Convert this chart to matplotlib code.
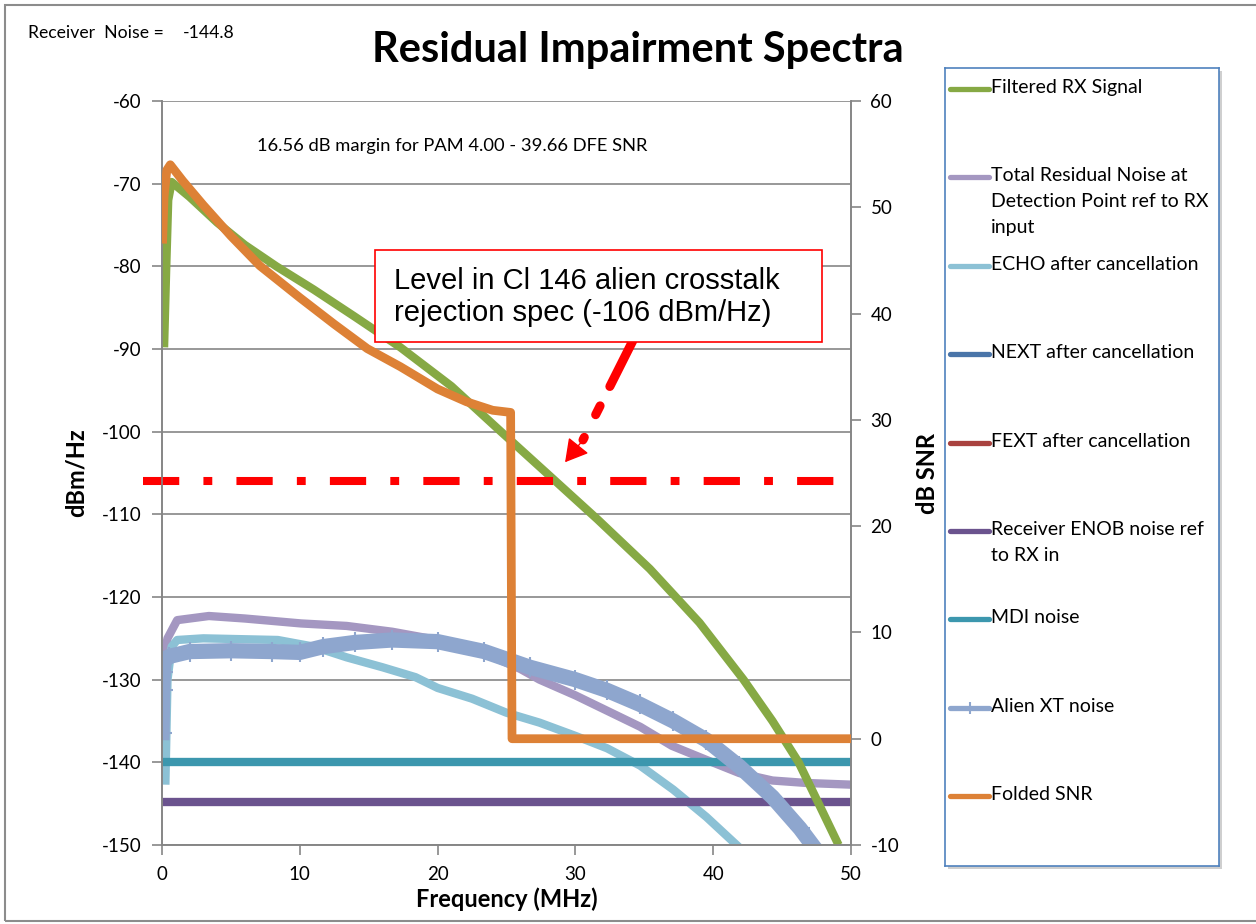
#!/usr/bin/env python3
"""Residual impairment spectra: noise terms vs filtered RX signal, plus folded SNR."""
import matplotlib
matplotlib.use("Agg")
import matplotlib.pyplot as plt
from matplotlib.patches import Rectangle
from matplotlib.lines import Line2D

plt.rcParams["axes.unicode_minus"] = False

W, H = 1256, 924

# Filtered RX Signal (dBm/Hz)
rx_f = [0.15, 0.3, 0.45, 0.7, 2.0, 4.0, 6.0, 8.3, 11.0, 14.0, 17.3, 21.0, 24.6,
        28.5, 31.6, 35.4, 39.0, 42.2, 44.3, 46.2, 47.8, 49.1]
rx_v = [-89.8, -80.5, -72.0, -69.8, -71.6, -74.7, -77.4, -80.0, -82.8, -86.1,
        -89.8, -94.5, -100.0, -105.9, -110.6, -116.6, -123.1, -130.0,
        -135.0, -140.0, -145.5, -150.0]

# Total Residual Noise at Detection Point ref to RX input
tot_f = [0.05, 0.4, 1.1, 3.4, 6.0, 10.1, 13.4, 16.7, 20.0, 23.4, 26.0, 27.4,
         30.0, 34.7, 37.0, 39.5, 41.9, 44.3, 46.8, 50.0]
tot_v = [-128.0, -125.0, -122.8, -122.3, -122.6, -123.2, -123.5, -124.2, -125.2,
         -126.8, -128.7, -130.0, -131.9, -135.7, -138.0, -139.7, -141.3, -142.2,
         -142.5, -142.7]

# ECHO after cancellation
echo_f = [0.25, 0.4, 0.7, 1.1, 3.0, 8.4, 11.0, 13.4, 16.0, 18.4, 20.0, 22.5,
          25.0, 27.4, 30.0, 32.3, 34.7, 37.1, 39.5, 41.7]
echo_v = [-142.2, -130.0, -126.0, -125.2, -125.0, -125.2, -126.0, -127.3, -128.5,
          -129.7, -131.0, -132.3, -134.0, -135.2, -136.8, -138.3, -140.4, -143.3,
          -146.6, -150.0]

# Receiver ENOB noise and MDI noise (flat)
enob_f = [0.0, 50.0]
enob_v = [-144.8, -144.8]
mdi_f = [0.0, 50.0]
mdi_v = [-140.0, -140.0]

# Alien XT noise
axt_f = [0.0, 0.05, 0.1, 0.15, 0.5, 2.0, 5.0, 8.0, 10.0, 11.7, 14.0, 16.7, 20.0,
         23.4, 26.7, 30.0, 32.3, 34.7, 37.1, 39.5, 41.9, 44.3, 46.3, 47.2]
axt_v = [-136.4, -131.3, -129.1, -127.7, -127.2, -126.6, -126.5, -126.6, -126.7,
         -126.0, -125.5, -125.2, -125.4, -126.6, -128.5, -130.0, -131.3, -133.0,
         -135.0, -137.3, -140.5, -144.2, -148.0, -150.0]

# Folded SNR (dB, right axis)
snr_f = [0.05, 0.15, 0.35, 0.6, 1.5, 3.0, 5.0, 7.1, 10.0, 12.5, 14.9, 17.3,
         20.0, 22.1, 24.0, 25.3, 25.4, 50.0]
snr_v = [47.0, 51.0, 53.5, 54.0, 52.5, 50.2, 47.3, 44.5, 41.5, 39.0, 36.7, 35.0,
         32.9, 31.7, 30.9, 30.7, 0.0, 0.0]

spec_level = -106.0

legend_names = ["Filtered RX Signal",
                "Total Residual Noise at\nDetection Point ref to RX\ninput",
                "ECHO after cancellation", "NEXT after cancellation",
                "FEXT after cancellation", "Receiver ENOB noise ref\nto RX in",
                "MDI noise", "Alien XT noise", "Folded SNR"]
colors = ["#86A944", "#A497C1", "#8CC1D5", "#4A75A9", "#A9423F",
          "#6B538E", "#3C97AE", "#8EA6CE", "#DD8136"]

CAL = "Lato"
GRAY = "#868686"


def fx(px):
    return px / W


def fy(py):
    return 1 - py / H


fig = plt.figure(figsize=(W / 100, H / 100), dpi=100)
ax = fig.add_axes([fx(162), fy(845), (851 - 162) / W, (845 - 101) / H])
ax2 = ax.twinx()

lw = 6.0
ax.plot(rx_f, rx_v, color=colors[0], lw=lw, zorder=3, solid_capstyle="butt")
ax.plot(tot_f, tot_v, color=colors[1], lw=lw, zorder=2)
ax.plot(echo_f, echo_v, color=colors[2], lw=lw, zorder=2)
ax.plot(enob_f, enob_v, color=colors[5], lw=lw, zorder=2, solid_capstyle="butt")
ax.plot(mdi_f, mdi_v, color=colors[6], lw=lw, zorder=2, solid_capstyle="butt")
ax.plot(axt_f, axt_v, color=colors[7], lw=11, marker="+", ms=14, mew=1.5, zorder=2.5)
ax.axhline(spec_level, xmin=-0.028, xmax=1.0, color="red", lw=5.8,
           linestyle=(0, (4.5, 3.0, 1.1, 3.0)), clip_on=False, zorder=4)

ax2.plot(snr_f, snr_v, color=colors[8], lw=lw + 0.3, zorder=3)

ax.set_xlim(0, 50)
ax.set_ylim(-150, -60)
ax2.set_ylim(-10, 60)
ax.set_xticks(range(0, 51, 10))
ax.set_yticks(range(-150, -59, 10))
ax2.set_yticks(range(-10, 61, 10))
ax.grid(axis="y", color=GRAY, lw=1.2)
ax.set_axisbelow(True)

for a in (ax, ax2):
    a.spines["top"].set_visible(False)
    for s in ("left", "right", "bottom"):
        a.spines[s].set_color(GRAY)
        a.spines[s].set_linewidth(1.2)
    a.tick_params(colors=GRAY, length=7, width=1.2, labelcolor="black")
    for lab in a.get_xticklabels() + a.get_yticklabels():
        lab.set_fontfamily(CAL)
        lab.set_fontsize(13.5)
ax.tick_params(axis="y", pad=8)
ax2.tick_params(axis="y", pad=7)
ax.tick_params(axis="x", pad=8)

ax.set_ylabel("dBm/Hz", fontfamily=CAL, fontsize=17, fontweight="bold", labelpad=10)
ax2.set_ylabel("dB SNR", fontfamily=CAL, fontsize=17, fontweight="bold", labelpad=12)
ax.set_xlabel("Frequency (MHz)", fontfamily=CAL, fontsize=17, fontweight="bold", labelpad=3)

# arrow pointing at the spec line
ax.annotate("", xy=(30.55, -101.0), xytext=(34.5, -87.9),
            arrowprops=dict(arrowstyle="-", color="red", lw=6.5, shrinkA=0, shrinkB=0,
                            linestyle=(0, (6.8, 2.4, 1.1, 2.8))), zorder=5)
ax.annotate("", xy=(29.25, -103.7), xytext=(30.6, -100.9),
            arrowprops=dict(arrowstyle="-|>,head_length=1.4,head_width=0.8",
                            color="red", lw=1, shrinkA=0, shrinkB=0), zorder=5)

# annotation box
fig.patches.append(Rectangle((fx(375), fy(342)), (822 - 375) / W, (342 - 250) / H,
                             transform=fig.transFigure, fc="white", ec="red",
                             lw=1.2, zorder=10))
fig.text(fx(394), fy(297), "Level in Cl 146 alien crosstalk\nrejection spec (-106 dBm/Hz)",
         fontfamily="Liberation Sans", fontsize=21, va="center", ha="left",
         linespacing=1.15, zorder=11)

fig.text(0.5 * (373 + 903) / W, fy(50), "Residual Impairment Spectra", fontfamily=CAL,
         fontsize=30, fontweight="bold", ha="center", va="center")
fig.text(fx(28), fy(33), "Receiver  Noise =", fontfamily=CAL, fontsize=12.7,
         ha="left", va="center")
fig.text(fx(183), fy(33), "-144.8", fontfamily=CAL, fontsize=12.7, ha="left", va="center")
fig.text(fx(257), fy(146), "16.56 dB margin for PAM 4.00 - 39.66 DFE SNR",
         fontfamily=CAL, fontsize=13.2, ha="left", va="center")

# outer border
fig.patches.append(Rectangle((fx(5), fy(921)), 1.0, (921 - 5) / H,
                             transform=fig.transFigure, fill=False, ec="#8C8C8C", lw=1.5))

# hand-placed legend box
lx0, ly0, lx1, ly1 = 945, 68, 1219, 866
fig.patches.append(Rectangle((fx(lx0 + 3), fy(ly1 + 3)), (lx1 - lx0) / W, (ly1 - ly0) / H,
                             transform=fig.transFigure, fc="#CFCFCF", ec="none", zorder=1))
lax = fig.add_axes([fx(lx0), fy(ly1), (lx1 - lx0) / W, (ly1 - ly0) / H], zorder=5)
lax.set_facecolor("white")
lax.set_xlim(0, lx1 - lx0)
lax.set_ylim(ly1 - ly0, 0)
lax.set_xticks([])
lax.set_yticks([])
for s in lax.spines.values():
    s.set_color("#4F81BD")
    s.set_linewidth(1.2)
for i, (name, c) in enumerate(zip(legend_names, colors)):
    yy = 89 + i * 88.4 - ly0
    lax.add_line(Line2D([5, 44], [yy, yy], color=c, lw=3.8, solid_capstyle="round"))
    if i == 7:
        lax.plot([24.5], [yy], marker="+", ms=9, mew=1.5, color=c)
    lax.text(46, yy - 10, name, fontfamily=CAL, fontsize=14, ha="left", va="top",
             linespacing=1.62)

fig.savefig("out.png", dpi=100)
